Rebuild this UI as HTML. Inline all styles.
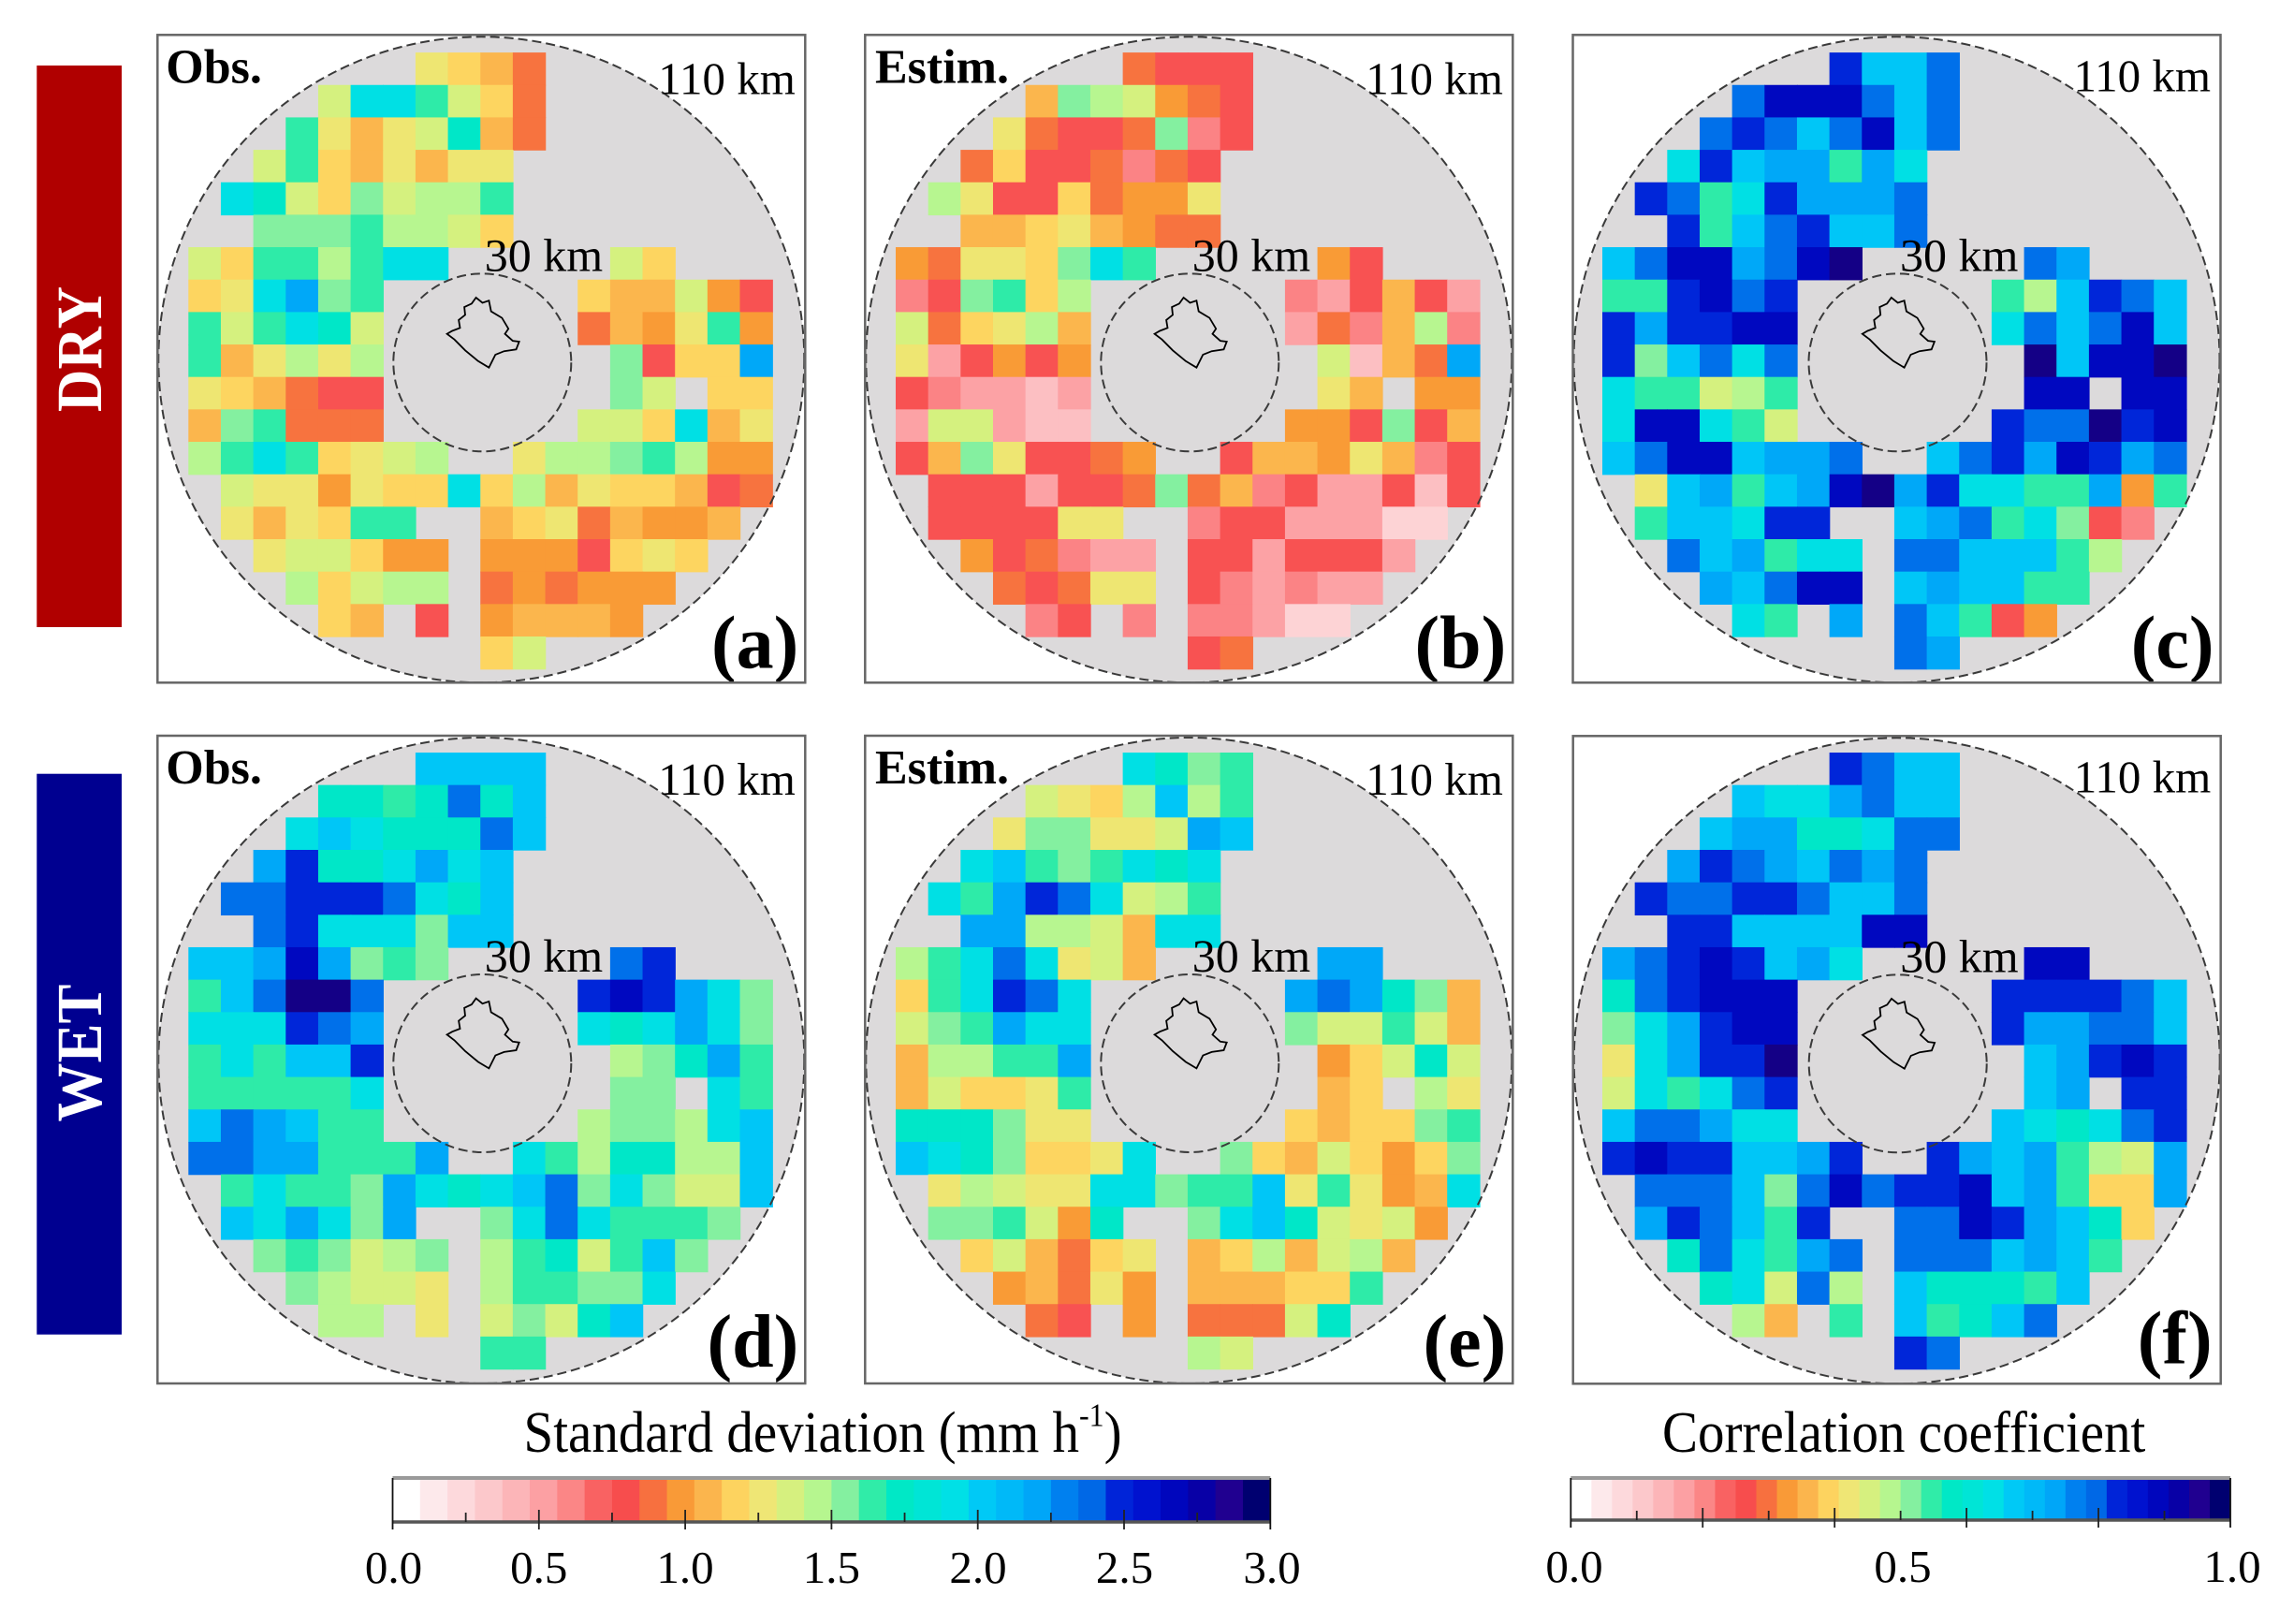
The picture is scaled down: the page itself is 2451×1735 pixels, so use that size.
<!DOCTYPE html>
<html><head><meta charset="utf-8">
<style>
html,body{margin:0;padding:0;background:#fff;}
svg{display:block;}
text{font-family:"Liberation Serif","Times New Roman",serif;fill:#000;}
</style></head>
<body>
<svg id="s" xmlns="http://www.w3.org/2000/svg" width="2451" height="1735" viewBox="0 0 2451 1735">
<rect width="2451" height="1735" fill="#fff"/>
<defs>
<path id="city" d="M340.3 280.6 L347.2 286.2 L354.1 283.9 L356.4 295.4 L368 302.3 L374.9 313.9 L371.2 319.4 L379.5 326.8 L386.4 327.7 L383.2 336 L370.3 337.9 L361 341.6 L354.1 355.4 L342.6 348.5 L328.7 337 L317.2 325.4 L309.3 319.4 L314.9 316.2 L323.2 313 L321.8 304.6 L328.7 299.1 L327.8 290.8 L335.6 287.1 Z" fill="none" stroke="#000" stroke-width="1.8"/>
</defs>

<!-- side labels -->
<rect x="39.3" y="70" width="90.7" height="600" fill="#b00000"/>
<text transform="translate(108,373) rotate(-90) scale(1,1.1)" text-anchor="middle" font-weight="bold" font-size="63" style="fill:#fff">DRY</text>
<rect x="39.3" y="826.7" width="90.7" height="599" fill="#000090"/>
<text transform="translate(108,1125) rotate(-90) scale(1,1.1)" text-anchor="middle" font-weight="bold" font-size="63" style="fill:#fff">WET</text>

<!-- Panel a -->
<g transform="translate(168.3,37.3)">
 <circle cx="346" cy="347" r="345" fill="#dcdadb"/>
 <g id="g0" transform="translate(33,18.8)"></g>
 <circle cx="346" cy="347" r="345" fill="none" stroke="#3a3a3a" stroke-width="2" stroke-dasharray="10 5"/>
 <circle cx="347" cy="350" r="95" fill="none" stroke="#3a3a3a" stroke-width="2" stroke-dasharray="10 5"/>
 <use href="#city"/>
 <text x="9" y="51" font-weight="bold" font-size="52">Obs.</text>
 <text x="535" y="63" font-size="49">110 km</text>
 <text x="349.5" y="252" font-size="50">30 km</text>
 <text x="685" y="676" text-anchor="end" font-weight="bold" font-size="80">(a)</text>
 <rect x="0" y="0" width="692" height="692" fill="none" stroke="#666" stroke-width="2.5"/>
</g>

<!-- Panel b -->
<g transform="translate(924.3,37.3)">
 <circle cx="346" cy="347" r="345" fill="#dcdadb"/>
 <g id="g1" transform="translate(32.7,18.8)"></g>
 <circle cx="346" cy="347" r="345" fill="none" stroke="#3a3a3a" stroke-width="2" stroke-dasharray="10 5"/>
 <circle cx="347" cy="350" r="95" fill="none" stroke="#3a3a3a" stroke-width="2" stroke-dasharray="10 5"/>
 <use href="#city"/>
 <text x="10.7" y="51" font-weight="bold" font-size="52">Estim.</text>
 <text x="535" y="63" font-size="49">110 km</text>
 <text x="349.5" y="252" font-size="50">30 km</text>
 <text x="685" y="676" text-anchor="end" font-weight="bold" font-size="80">(b)</text>
 <rect x="0" y="0" width="692" height="692" fill="none" stroke="#666" stroke-width="2.5"/>
</g>

<!-- Panel c -->
<g transform="translate(1680.5,37.3)">
 <circle cx="346" cy="347" r="345" fill="#dcdadb"/>
 <g id="g2" transform="translate(31.5,18.8)"></g>
 <circle cx="346" cy="347" r="345" fill="none" stroke="#3a3a3a" stroke-width="2" stroke-dasharray="10 5"/>
 <circle cx="347" cy="350" r="95" fill="none" stroke="#3a3a3a" stroke-width="2" stroke-dasharray="10 5"/>
 <use href="#city"/>
 <text x="535" y="60" font-size="49">110 km</text>
 <text x="349.5" y="252" font-size="50">30 km</text>
 <text x="685" y="676" text-anchor="end" font-weight="bold" font-size="80">(c)</text>
 <rect x="0" y="0" width="692" height="692" fill="none" stroke="#666" stroke-width="2.5"/>
</g>

<!-- Panel d -->
<g transform="translate(168.3,786)">
 <circle cx="346" cy="347" r="345" fill="#dcdadb"/>
 <g id="g3" transform="translate(33,18)"></g>
 <circle cx="346" cy="347" r="345" fill="none" stroke="#3a3a3a" stroke-width="2" stroke-dasharray="10 5"/>
 <circle cx="347" cy="350" r="95" fill="none" stroke="#3a3a3a" stroke-width="2" stroke-dasharray="10 5"/>
 <use href="#city"/>
 <text x="9" y="51" font-weight="bold" font-size="52">Obs.</text>
 <text x="535" y="63" font-size="49">110 km</text>
 <text x="349.5" y="252" font-size="50">30 km</text>
 <text x="685" y="674" text-anchor="end" font-weight="bold" font-size="80">(d)</text>
 <rect x="0" y="0" width="692" height="692" fill="none" stroke="#666" stroke-width="2.5"/>
</g>

<!-- Panel e -->
<g transform="translate(924.3,786)">
 <circle cx="346" cy="347" r="345" fill="#dcdadb"/>
 <g id="g4" transform="translate(32.7,18)"></g>
 <circle cx="346" cy="347" r="345" fill="none" stroke="#3a3a3a" stroke-width="2" stroke-dasharray="10 5"/>
 <circle cx="347" cy="350" r="95" fill="none" stroke="#3a3a3a" stroke-width="2" stroke-dasharray="10 5"/>
 <use href="#city"/>
 <text x="10.7" y="51" font-weight="bold" font-size="52">Estim.</text>
 <text x="535" y="63" font-size="49">110 km</text>
 <text x="349.5" y="252" font-size="50">30 km</text>
 <text x="685" y="674" text-anchor="end" font-weight="bold" font-size="80">(e)</text>
 <rect x="0" y="0" width="692" height="692" fill="none" stroke="#666" stroke-width="2.5"/>
</g>

<!-- Panel f -->
<g transform="translate(1680.7,786.3)">
 <circle cx="346" cy="347" r="345" fill="#dcdadb"/>
 <g id="g5" transform="translate(31.3,17.7)"></g>
 <circle cx="346" cy="347" r="345" fill="none" stroke="#3a3a3a" stroke-width="2" stroke-dasharray="10 5"/>
 <circle cx="347" cy="350" r="95" fill="none" stroke="#3a3a3a" stroke-width="2" stroke-dasharray="10 5"/>
 <use href="#city"/>
 <text x="535" y="60" font-size="49">110 km</text>
 <text x="349.5" y="252" font-size="50">30 km</text>
 <text x="683" y="670" text-anchor="end" font-weight="bold" font-size="80">(f)</text>
 <rect x="0" y="0" width="692" height="692" fill="none" stroke="#666" stroke-width="2.5"/>
</g>

<!-- Colorbar titles -->
<text transform="translate(559.5,1551) scale(1,1.1)" font-size="57">Standard deviation (mm h<tspan font-size="32" dy="-25">-1</tspan><tspan dy="25">)</tspan></text>
<text transform="translate(1776,1551) scale(1,1.1)" font-size="57">Correlation coefficient</text>

<g id="cb1"></g>
<g id="cb2"></g>

<!-- tick labels -->
<g font-size="49" text-anchor="middle">
 <text x="420.5" y="1691">0.0</text>
 <text x="575.8" y="1691">0.5</text>
 <text x="732" y="1691">1.0</text>
 <text x="888.4" y="1691">1.5</text>
 <text x="1045" y="1691">2.0</text>
 <text x="1201.5" y="1691">2.5</text>
 <text x="1359" y="1691">3.0</text>
 <text x="1682" y="1690">0.0</text>
 <text x="2033" y="1690">0.5</text>
 <text x="2385" y="1690">1.0</text>
</g>
</svg>
<script>
(function(){
const NS='http://www.w3.org/2000/svg';
function el(tag,attrs,parent){const e=document.createElementNS(NS,tag);for(const k in attrs)e.setAttribute(k,attrs[k]);parent.appendChild(e);return e;}
const COL={w:'#fdd3d5',q:'#fcbfc2',p:'#fca2a5',P:'#fb8385',r:'#f85252',R:'#f7733f',D:'#f99b36',O:'#fbb64d',G:'#fdd560',Y:'#eee672',l:'#d5f17f',L:'#b7f690',M:'#84f0a0',T:'#2eeba8',Q:'#00e7c8',C:'#00e0e4',S:'#00c6f7',B:'#00a8f8',b:'#0070ea',N:'#0026d9',n:'#0008c0',K:'#140086'};
const G=[
[".......YGOR.......","....lCCTlGR.......","...TYOYlQOR.......","..lTGOYOYY........",".CQlGMlLLT........","..MMMTLLlG........","lGTTLTCC.....lG...","GYCBMT......GOOlDr","TlTCQl......RODYTD","TOYLYL.......MrGGB","YGORrr.......Ml.GG","OMTRRR......llGCOY","LTCTGYlL..YLLMTLDD",".lYYDYGGCGLOYGGOrR",".YOYGTT..OGYRODDO.","..YllGDD.DDDrGYG..","...LGlLL.RDRDDD...","....GO.r.DOOOD....",".........Gl......."],
[".......Rrrr.......","....OMLlDRr.......","...YRrrRMPr.......","..RGrrRPRr........",".LYrrGRDDY........","..OOGYODRR........","DRYYGMCT.....Dr...","PrMTGL......PprOrp","lRGYLO......pRPOLP","YprDrD.......lqORB","rPppqp.......YO.DD","pllpqq......DDrMrO","rOMYrrRD..rOODYOPr",".rrrprrRMROPrpprqr",".rrrrYY..Prrpppww.","..DrRPpp.rrprrrp..","...RrRYY.rPpPpp...","....Pr.P.PPpww....",".........rR......."],
[".......NSSb.......","....bnnnbSb.......","...bNbSbnSb.......","..CNSBBTBC........",".NbTCNBBBb........","..NTSbNSSb........","SbnnBbnK.....bB...","TTNnbN......TLSNbS","NBNNnn......CbSbnS","NMSbCb.......KSnnK","CTTlLT.......nn.nn","CnnCTl......NbbKNn","SbnnSBBb..SbNBnNBb",".YSBTSBnKBNCCTTBDT",".TSSCNN..SBbTCMrP.","..bSBTCC.bbSSSTL..","...BSbnn.SBSSTT...","....CT.B.bSTrD....",".........bB......."],
[".......SSSS.......","....QQTQbQS.......","...CSCQQQbS.......","..BNQQCBCS........",".bbNNNbCQS........","..bNCCCMSS........","SSBnBMTM.....bN...","TSbKKb......NnNBCM","CCCNbB......CQCBCM","TCTSSN.......LMQBT","TTTTTC.......MM.CT","SbBSTT......LMMLCS","bbBBTTTB..CTLQQLLS",".TCTTMBCQCSbMCMllS",".SCBCMB..MCbCTTTM.","..MTMlLM.LTQlTSM..","...MLllY.LTTMMC...","....LL.Y.lMlQS....",".........TT......."],
[".......CQMT.......","....lYGLSLT.......","...YMMYYlBS.......","..CSTMTCQC........",".CTBNbClLT........","..BBLLlOCC........","LTCbCYlO.....BB...","GTCNbC......BbBQMO","lMTBCC......MllTlO","OLLTTB.......DGlQl","OlGGYT.......OG.LY","QQQMYY......GOGGMT","SCQMGGYC..MGOlGDGM",".YLlYYCCMTTSYTYDOC",".MMTlDQ..MCSQlYlD.","..GlORGY.OGLOlLO..","...DORYD.OOOGGT...","....Rr.D.RRRlQ....",".........Ll......."],
[".......NbSS.......","....SCCBbSS.......","...SBBQQCbb.......","..BNbBSbBb........",".NbbNNbSSb........","..NNSSSSnn........","BbNnNSBC.....nn...","QbNnnn......NNNNbS","MCBNnn......NBBbbS","YCBNNK.......SBNnN","lCTCbN.......SB.NN","SbbBCC......SCQCbN","NnNNSSBN..NBSBTLlB",".bbbSMbnbNNnSBTGGB",".BNbSTN..bbnNBSQG.","..QbCTBb.bbbSBST..","...QClbL.SQQQTS...","....LO.T.STQSb....",".........Nb......."]
];
const cs=34.66;
G.forEach((grid,i)=>{const g=document.getElementById('g'+i);
 grid.forEach((row,r)=>{for(let c=0;c<row.length;c++){const ch=row[c];if(ch==='.'||!COL[ch])continue;
  el('rect',{x:(c*cs).toFixed(2),y:(r*cs).toFixed(2),width:(cs+0.7).toFixed(2),height:(cs+0.7).toFixed(2),fill:COL[ch]},g);}});});

const PAL=['#ffffff','#fde9eb','#fdd9dc','#fcc8cb','#fcb5b8','#fca0a3','#fb8686','#f96262','#f74d4d','#f7703f','#f99a37','#fbb54d','#fdd35f','#efe675','#d6f07f','#b6f68f','#84f0a0','#30eca8','#00e8c6','#00e5d6','#00e0e6','#00c9f6','#00b9f8','#00a6f8','#0080ef','#0068e6','#0024d8','#0012cf','#0006bd','#0800a6','#200090','#000070'];
function bar(id,x0,x1,y0,y1,ticks){const g=document.getElementById(id);const w=(x1-x0)/32;
 for(let i=0;i<32;i++)el('rect',{x:(x0+i*w).toFixed(2),y:y0,width:(w+0.6).toFixed(2),height:y1-y0,fill:PAL[i]},g);
 el('line',{x1:x0,y1:y0,x2:x1,y2:y0,stroke:'#9a9a9a','stroke-width':4},g);
 el('line',{x1:x0,y1:y1,x2:x1,y2:y1,stroke:'#555','stroke-width':3.5},g);
 el('line',{x1:x0,y1:y0,x2:x0,y2:y1+8,stroke:'#111','stroke-width':1.8},g);
 el('line',{x1:x1,y1:y0,x2:x1,y2:y1+8,stroke:'#111','stroke-width':1.8},g);
 ticks.forEach(t=>{const x=x0+t[0]*(x1-x0);
  if(t[1])el('line',{x1:x,y1:y1-13,x2:x,y2:y1+8,stroke:'#222','stroke-width':1.8},g);
  else el('line',{x1:x,y1:y1-10,x2:x,y2:y1,stroke:'#222','stroke-width':1.8},g);});
}
const t1=[];for(let k=1;k<12;k++)t1.push([k/12,k%2===0]);
bar('cb1',419.5,1357.3,1579,1626,t1);
const t2=[];for(let k=1;k<10;k++)t2.push([k/10,k%2===0]);
bar('cb2',1678.3,2383,1579,1624,t2);
})();
</script>
</body></html>
